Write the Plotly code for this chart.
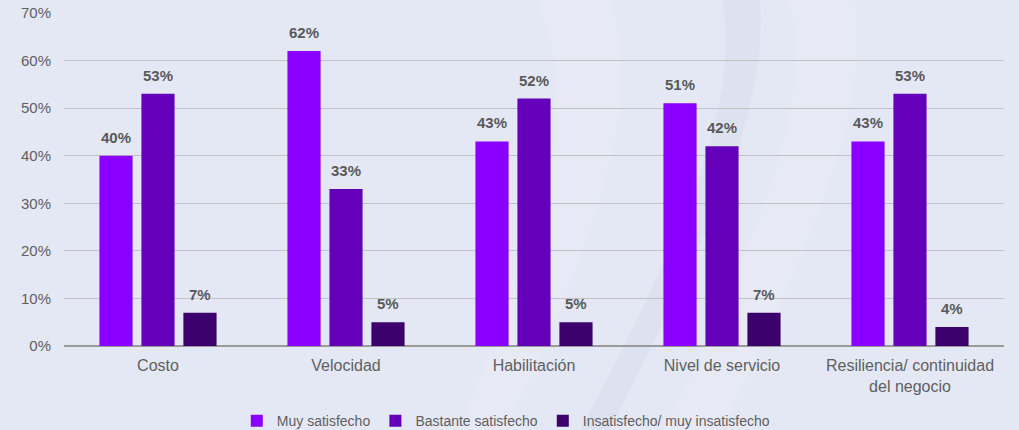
import plotly.graph_objects as go

categories = ["Costo", "Velocidad", "Habilitación", "Nivel de servicio", "Resiliencia/ continuidad<br>del negocio"]
series_names = ["Muy satisfecho", "Bastante satisfecho", "Insatisfecho/ muy insatisfecho"]
muy_satisfecho = [40, 62, 43, 51, 43]
bastante_satisfecho = [53, 33, 52, 42, 53]
insatisfecho = [7, 5, 5, 7, 4]
colors = ["#8A00FF", "#6500BA", "#3C006C"]
y_ticks = [0, 10, 20, 30, 40, 50, 60, 70]

FONT = "Liberation Sans, Arial, sans-serif"
BARGAP = 0.33
BARGROUPGAP = 0.21
PLOT_W = 1019 - 64 - 15

fig = go.Figure()
series = [muy_satisfecho, bastante_satisfecho, insatisfecho]
slot = PLOT_W / len(categories) * (1 - BARGAP) / len(series)
annotations = []
for i, (name, vals, col) in enumerate(zip(series_names, series, colors)):
    fig.add_trace(go.Bar(
        x=categories, y=vals, name=name,
        marker=dict(color=col, line=dict(color=col, width=0)),
    ))
    for c, v in zip(categories, vals):
        annotations.append(dict(
            x=c, y=v, xref="x", yref="y", text=f"{v}%", showarrow=False,
            xshift=(i - (len(series) - 1) / 2) * slot, yshift=8, yanchor="bottom",
            font=dict(family=FONT, size=15, color="#595959", weight="bold"),
        ))

# subtle background swooshes (decorative)
swooshes = [
    dict(path="M 0.50 1.05 C 0.56 0.70, 0.50 0.30, 0.42 -0.25 L 0.47 -0.25 C 0.56 0.30, 0.62 0.70, 0.58 1.05 Z",
         fillcolor="rgba(255,255,255,0.12)"),
    dict(path="M 0.70 1.05 C 0.72 0.70, 0.66 0.35, 0.55 -0.25 L 0.58 -0.25 C 0.69 0.35, 0.75 0.70, 0.74 1.05 Z",
         fillcolor="rgba(170,180,205,0.10)"),
    dict(path="M 0.77 1.05 C 0.80 0.75, 0.75 0.40, 0.64 -0.25 L 0.70 -0.25 C 0.81 0.40, 0.86 0.75, 0.84 1.05 Z",
         fillcolor="rgba(255,255,255,0.12)"),
]
shapes = [dict(type="path", xref="paper", yref="paper", path=s["path"], fillcolor=s["fillcolor"],
               line=dict(width=0), layer="below") for s in swooshes]

fig.update_layout(
    width=1019, height=430,
    margin=dict(l=64, r=15, t=12, b=84, autoexpand=False),
    paper_bgcolor="#e4e8f4", plot_bgcolor="rgba(0,0,0,0)",
    barmode="group", bargap=BARGAP, bargroupgap=BARGROUPGAP,
    font=dict(family=FONT, size=16, color="#5f5f5f"),
    showlegend=True,
    shapes=shapes,
    annotations=annotations,
    legend=dict(orientation="h", x=0.47, xanchor="center", y=-0.225, yanchor="middle",
                font=dict(family=FONT, size=14, color="#5f5f5f"), itemwidth=30, traceorder="normal",
                bgcolor="rgba(0,0,0,0)"),
    xaxis=dict(showgrid=False, showline=False, ticks="", ticklabelstandoff=8,
               tickfont=dict(family=FONT, size=16, color="#5f5f5f")),
    yaxis=dict(range=[0, 70.2], tickvals=y_ticks, ticktext=[f"{t}%" for t in y_ticks],
               showgrid=True, gridcolor="#c2c2c2", gridwidth=1,
               zeroline=True, zerolinecolor="#9a9a9a", zerolinewidth=2,
               showline=False, ticks="", ticklabelstandoff=12,
               tickfont=dict(family=FONT, size=15, color="#5f5f5f")),
)

fig.write_html("out.html", config={"displayModeBar": False},
               post_script="document.body.style.margin='0';document.body.style.background='#e4e8f4';")
